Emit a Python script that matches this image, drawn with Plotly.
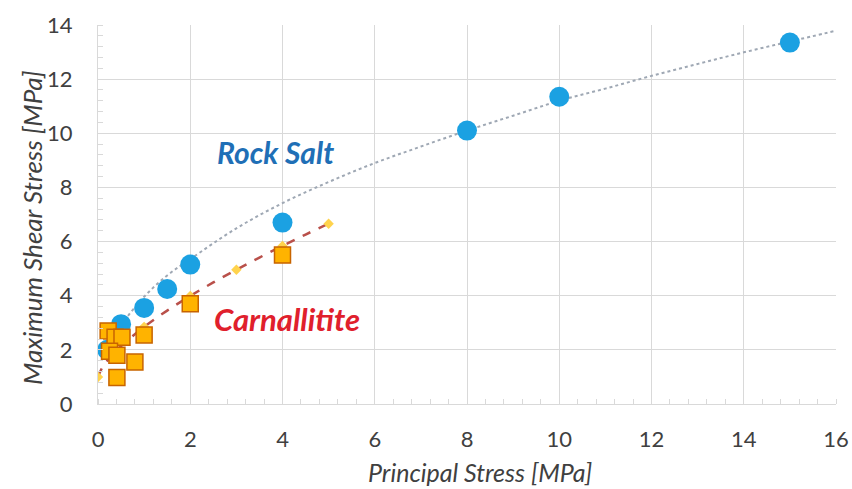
import plotly.graph_objects as go

# Rock salt test data
rock_x = [0.2, 0.5, 1, 1.5, 2, 4, 8, 10, 15]
rock_y = [2.0, 2.95, 3.55, 4.25, 5.15, 6.7, 10.1, 11.35, 13.35]

# Carnallitite test data
carn_x = [0.22, 0.37, 0.52, 0.25, 0.41, 0.8, 0.41, 1.0, 2.0, 4.0]
carn_y = [2.7, 2.47, 2.47, 1.95, 1.8, 1.55, 0.98, 2.55, 3.7, 5.5]

# Rock salt trend (dotted)
rock_fit_x = [0.25, 0.5, 1, 1.5, 2, 3, 4, 5, 6, 7, 8, 9, 10, 11, 12, 13, 14, 15, 16]
rock_fit_y = [2.12, 2.90, 3.96, 4.75, 5.35, 6.49, 7.42, 8.2, 8.9, 9.51, 10.1, 10.65,
              11.2, 11.65, 12.12, 12.56, 12.99, 13.39, 13.79]

# Carnallitite trend (dashed) with markers
carn_fit_x = [0, 0.1, 0.25, 0.5, 1, 1.5, 2, 2.5, 3, 3.5, 4, 4.5, 5]
carn_fit_y = [1.0, 1.37, 1.70, 2.14, 2.85, 3.45, 3.99, 4.49, 4.96, 5.41, 5.84, 6.26, 6.66]
carn_mark_x = [0, 1, 2, 3, 4, 5]
carn_mark_y = [1.0, 2.85, 3.99, 4.96, 5.84, 6.66]

x_ticks = [0, 2, 4, 6, 8, 10, 12, 14, 16]
y_ticks = [0, 2, 4, 6, 8, 10, 12, 14]

FONT = "Lato"
GRID = "#D9D9D9"
TXT = "#404040"

fig = go.Figure()

fig.add_trace(go.Scatter(
    x=rock_fit_x, y=rock_fit_y, mode="lines", line_shape="spline",
    line=dict(color="#9FA8B4", width=2, dash="dot"), showlegend=False, hoverinfo="skip"))

fig.add_trace(go.Scatter(
    x=carn_fit_x, y=carn_fit_y, mode="lines", line_shape="spline",
    line=dict(color="#B9504A", width=2.5, dash="dash"), showlegend=False, hoverinfo="skip"))

fig.add_trace(go.Scatter(
    x=carn_mark_x, y=carn_mark_y, mode="markers",
    marker=dict(symbol="diamond", size=8, color="#FFD34D", line=dict(width=0)),
    showlegend=False, hoverinfo="skip"))

fig.add_trace(go.Scatter(
    x=rock_x, y=rock_y, mode="markers",
    marker=dict(symbol="circle", size=20, color="#1BA1E2", line=dict(width=0)),
    showlegend=False))

fig.add_trace(go.Scatter(
    x=carn_x, y=carn_y, mode="markers",
    marker=dict(symbol="square", size=16, color="#FFB300",
                line=dict(width=1.5, color="#C86400")),
    showlegend=False))

fig.add_annotation(x=3.84, y=9.3, text="<b><i>Rock Salt</i></b>", showarrow=False,
                   font=dict(family=FONT, size=30, color="#1F6FB6"))
fig.add_annotation(x=4.1, y=3.14, text="<b><i>Carnallitite</i></b>", showarrow=False,
                   font=dict(family=FONT, size=31, color="#E0202C"))

# axis titles placed as in the reference
fig.add_annotation(xref="paper", yref="paper", x=(480 - 98) / 738, y=-(472 - 404) / 379,
                   text="<i>Principal Stress [MPa]</i>", showarrow=False,
                   xanchor="center", yanchor="middle",
                   font=dict(family=FONT, size=25, color=TXT))
fig.add_annotation(xref="paper", yref="paper", x=-(98 - 32) / 738, y=(404 - 228) / 379,
                   text="<i>Maximum Shear Stress [MPa]</i>", showarrow=False, textangle=-90,
                   xanchor="center", yanchor="middle",
                   font=dict(family=FONT, size=26, color=TXT))

fig.update_layout(
    width=852, height=489,
    margin=dict(l=98, r=16, t=25, b=85),
    paper_bgcolor="white", plot_bgcolor="white",
    font=dict(family=FONT, color=TXT),
)

fig.update_xaxes(
    range=[0, 16], tickvals=x_ticks, ticktext=[str(v) for v in x_ticks],
    showgrid=True, gridcolor=GRID, gridwidth=1, automargin=False,
    showline=True, linecolor=GRID, linewidth=1, zeroline=False,
    ticks="", ticklabelstandoff=16,
    tickfont=dict(family=FONT, size=22, color=TXT),
    minor=dict(dtick=0.4, ticks="inside", ticklen=5, tickcolor=GRID, showgrid=False),
)
fig.update_yaxes(
    range=[0, 14], tickvals=y_ticks, ticktext=[str(v) for v in y_ticks],
    showgrid=True, gridcolor=GRID, gridwidth=1, automargin=False,
    showline=True, linecolor=GRID, linewidth=1, zeroline=False,
    ticks="", ticklabelstandoff=20,
    tickfont=dict(family=FONT, size=22, color=TXT),
    minor=dict(dtick=0.4, ticks="inside", ticklen=5, tickcolor=GRID, showgrid=False),
)

fig.write_html("out.html")
